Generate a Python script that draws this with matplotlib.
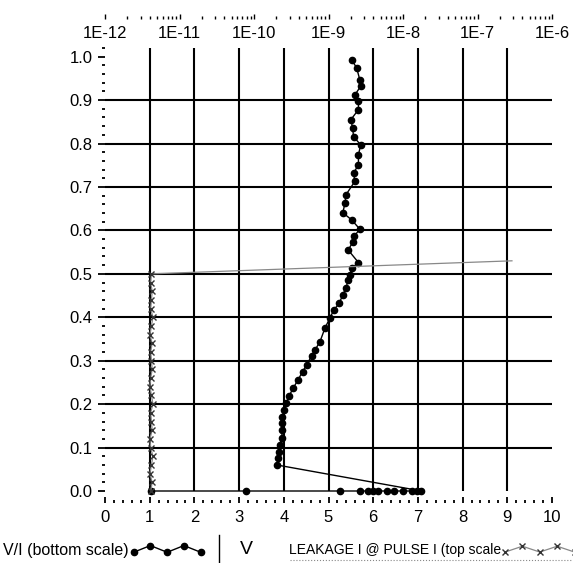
import numpy as np
import matplotlib
matplotlib.use("Agg")
import matplotlib.pyplot as plt
from matplotlib.lines import Line2D
from matplotlib.legend_handler import HandlerLine2D
from matplotlib.ticker import MultipleLocator, LogLocator, NullFormatter, FuncFormatter

plt.rcParams['font.family'] = ['Liberation Sans', 'DejaVu Sans']

# --- data ---
# V/I (bottom scale): x = V/I value, y = voltage
vi_x = [1.03, 3.15, 5.26, 5.70, 5.89, 6.00, 6.11, 6.30, 6.47, 6.67, 6.86, 6.97, 7.08,
        3.84, 3.88, 3.90, 3.91, 3.95, 3.97, 3.97, 3.97, 4.00, 4.05, 4.12, 4.21, 4.32,
        4.42, 4.51, 4.62, 4.70, 4.81, 4.92, 5.03, 5.12, 5.24, 5.32, 5.39, 5.44, 5.48,
        5.52, 5.67, 5.44, 5.55, 5.57, 5.70, 5.52, 5.32, 5.37, 5.39, 5.59, 5.56, 5.67,
        5.67, 5.72, 5.56, 5.54, 5.50, 5.67, 5.67, 5.59, 5.72, 5.70, 5.63, 5.52]
vi_y = [0.0, 0.0, 0.0, 0.0, 0.0, 0.0, 0.0, 0.0, 0.0, 0.0, 0.0, 0.0, 0.0,
        0.060, 0.075, 0.090, 0.106, 0.121, 0.140, 0.156, 0.171, 0.187, 0.202, 0.219, 0.237, 0.256,
        0.275, 0.290, 0.311, 0.325, 0.344, 0.375, 0.398, 0.417, 0.432, 0.452, 0.467, 0.486, 0.498,
        0.513, 0.526, 0.555, 0.574, 0.586, 0.603, 0.624, 0.641, 0.663, 0.682, 0.713, 0.732, 0.751,
        0.774, 0.797, 0.816, 0.836, 0.855, 0.878, 0.897, 0.912, 0.932, 0.947, 0.974, 0.993]

# leakage current at pulse (top scale, amps) vs voltage
leak_v = [0.00, 0.02, 0.04, 0.06, 0.08, 0.10, 0.12, 0.14, 0.16, 0.18, 0.20, 0.22, 0.24,
          0.26, 0.28, 0.30, 0.32, 0.34, 0.36, 0.38, 0.40, 0.42, 0.44, 0.46, 0.48, 0.50, 0.53]
leak_i = [4.1e-12, 4.3e-12, 4.0e-12, 4.2e-12, 4.4e-12, 4.1e-12, 4.0e-12, 4.3e-12, 4.2e-12,
          4.1e-12, 4.4e-12, 4.2e-12, 4.0e-12, 4.1e-12, 4.3e-12, 4.2e-12, 4.1e-12, 4.3e-12,
          4.0e-12, 4.2e-12, 4.4e-12, 4.1e-12, 4.2e-12, 4.3e-12, 4.1e-12, 4.2e-12, 2.9e-7]

bottom_ticks = list(range(11))
left_ticks = [0.0, 0.1, 0.2, 0.3, 0.4, 0.5, 0.6, 0.7, 0.8, 0.9, 1.0]
top_decades = [1e-12, 1e-11, 1e-10, 1e-9, 1e-8, 1e-7, 1e-6]

PX = 72 / 100  # points per pixel at dpi 100


class ZigzagHandler(HandlerLine2D):
    # legend sample drawn as a little zigzag, like the original software
    def create_artists(self, legend, orig_handle, xdescent, ydescent,
                       width, height, fontsize, trans):
        xs = np.linspace(-xdescent, width - xdescent, 5)
        ys = (height / 2 - ydescent) + np.array([-1, 1, -1, 1, -1]) * height * 0.3
        line = Line2D(xs, ys)
        self.update_prop(line, orig_handle, legend)
        line.set_transform(trans)
        return [line]


fig = plt.figure(figsize=(5.73, 5.63), dpi=100)
ax = fig.add_axes([105 / 573, 72 / 563, 447 / 573, 443 / 563])
ax.set_xlim(0, 10)
ax.set_ylim(0, 1.02)

# grid only on the inner ticks
for gx in bottom_ticks[1:-1]:
    ax.axvline(gx, color='black', lw=1.5, zorder=1)
for gy in left_ticks[1:-1]:
    ax.axhline(gy, color='black', lw=1.5, zorder=1)

for s in ax.spines.values():
    s.set_visible(False)
ax.spines['bottom'].set_position(('outward', 12 * PX))

ax.set_xticks(bottom_ticks)
ax.xaxis.set_minor_locator(MultipleLocator(0.2))
ax.set_yticks(left_ticks)
ax.set_yticklabels([f"{v:.1f}" for v in left_ticks])
ax.yaxis.set_minor_locator(MultipleLocator(0.02))
ax.tick_params(axis='x', which='major', direction='in', length=6 * PX, width=1.3, pad=5, labelsize=12)
ax.tick_params(axis='x', which='minor', direction='in', length=3.5 * PX, width=1.3)
ax.tick_params(axis='y', which='major', direction='out', length=7 * PX, width=1.3, pad=4, labelsize=12)
ax.tick_params(axis='y', which='minor', direction='out', length=3.5 * PX, width=1.3)

ax.plot(vi_x, vi_y, color='black', lw=1.0, marker='o', ms=4.5, clip_on=False, zorder=4)

# top scale: leakage current, log axis
ax2 = ax.twiny()
ax2.set_xscale('log')
ax2.set_xlim(1e-12, 1e-6)
for s in ax2.spines.values():
    s.set_visible(False)
ax2.spines['top'].set_position(('outward', 29 * PX))
ax2.set_xticks(top_decades)
ax2.xaxis.set_major_formatter(FuncFormatter(lambda v, p: f"1E{int(round(np.log10(v)))}"))
ax2.xaxis.set_minor_locator(LogLocator(base=10, subs=np.arange(2, 10), numticks=100))
ax2.xaxis.set_minor_formatter(NullFormatter())
ax2.tick_params(axis='x', which='major', direction='out', length=5 * PX, width=1.0,
                pad=-22 * PX - 5 * PX, labelsize=12)
ax2.tick_params(axis='x', which='minor', direction='out', length=3 * PX, width=1.0)

ax2.plot(leak_i, leak_v, color='#888888', lw=0.9, marker='x', ms=4, mec='#333333',
         markevery=list(range(len(leak_v) - 1)), clip_on=False, zorder=3)

# legend row
h1 = Line2D([], [], color='black', lw=1.0, marker='o', ms=4.5)
h2 = Line2D([], [], color='#888888', lw=0.9, marker='x', ms=4, mec='#333333')
fig.legend([h1], ['V/I (bottom scale)'], handler_map={Line2D: ZigzagHandler()},
           loc='center left', bbox_to_anchor=(0.0, 1 - 550 / 563), frameon=False,
           markerfirst=False, handlelength=4.2, handletextpad=0.3, fontsize=11.5,
           borderaxespad=0, borderpad=0.2)
fig.legend([h2], ['LEAKAGE I @ PULSE I (top scale'], handler_map={Line2D: ZigzagHandler()},
           loc='center left', bbox_to_anchor=(286 / 573, 1 - 550 / 563), frameon=False,
           markerfirst=False, handlelength=5, handletextpad=0.3, fontsize=10,
           borderaxespad=0, borderpad=0.2)
fig.add_artist(Line2D([219 / 573, 219 / 573], [1 - 535 / 563, 1 - 565 / 563],
                      transform=fig.transFigure, color='black', lw=1.0))
fig.add_artist(Line2D([290 / 573, 1.0], [1 - 560 / 563, 1 - 560 / 563],
                      transform=fig.transFigure, color='#888888', lw=0.8, ls=':'))
fig.text(246 / 573, 1 - 550 / 563, 'V', fontsize=14, ha='center', va='center')

fig.savefig('out.png', dpi=100)
